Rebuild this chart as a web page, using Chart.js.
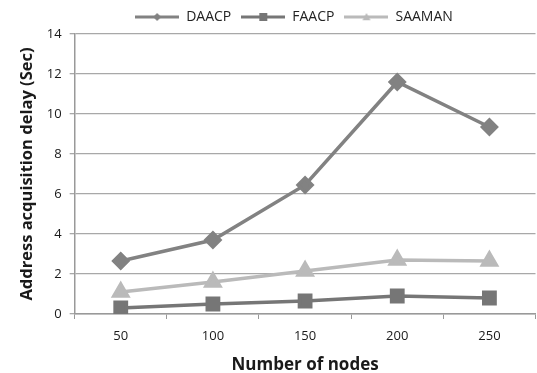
<!DOCTYPE html>
<html>
<head>
<meta charset="utf-8">
<script src="https://cdn.jsdelivr.net/npm/chart.js@4.4.1/dist/chart.umd.min.js"></script>
<style>
  html, body { margin: 0; padding: 0; background: #fff; overflow: hidden; }
  #wrap { width: 537px; height: 373px; overflow: hidden; }
</style>
</head>
<body>
<div id="wrap"><canvas id="delayChart" width="547" height="375"></canvas></div>
<script>
// values
var nodeCounts = ['50', '100', '150', '200', '250'];
var daacpDelay = [2.65, 3.7, 6.45, 11.6, 9.35];
var faacpDelay = [0.3, 0.5, 0.65, 0.9, 0.8];
var saamanDelay = [1.1, 1.6, 2.15, 2.7, 2.65];
var yTicks = [0, 2, 4, 6, 8, 10, 12, 14];

var fontFamily = "'Open Sans', 'Liberation Sans', sans-serif";

// legend swatch: a short line with the marker in the middle
function legendSwatch(color, style, size) {
    var c = document.createElement('canvas');
    c.width = 44; c.height = 14;
    var g = c.getContext('2d');
    g.strokeStyle = color;
    g.lineWidth = 3;
    g.beginPath(); g.moveTo(0, 7); g.lineTo(44, 7); g.stroke();
    g.fillStyle = color;
    g.beginPath();
    if (style === 'rectRot') {
        g.moveTo(22, 7 - size); g.lineTo(22 + size, 7); g.lineTo(22, 7 + size); g.lineTo(22 - size, 7);
    } else if (style === 'rect') {
        g.rect(22 - size, 7 - size, size * 2, size * 2);
    } else {
        g.moveTo(22, 7 - size); g.lineTo(22 + size, 7 + size * 0.8); g.lineTo(22 - size, 7 + size * 0.8);
    }
    g.closePath(); g.fill();
    return c;
}

// nudge the legend a little to the right, like the original
var legendShift = {
    id: 'legendShift',
    afterLayout: function (chart) {
        chart.legend.left += 13;
        chart.legend.right += 13;
    }
};

var ctx = document.getElementById('delayChart').getContext('2d');
var chart = new Chart(ctx, {
    type: 'line',
    data: {
        labels: nodeCounts,
        datasets: [{
            label: 'DAACP',
            data: daacpDelay,
            borderColor: '#828282',
            backgroundColor: '#828282',
            borderWidth: 3.5,
            pointStyle: 'rectRot',
            pointRadius: 7,
            tension: 0
        }, {
            label: 'FAACP',
            data: faacpDelay,
            borderColor: '#767676',
            backgroundColor: '#767676',
            borderWidth: 3.5,
            pointStyle: 'rect',
            pointRadius: 8,
            tension: 0
        }, {
            label: 'SAAMAN',
            data: saamanDelay,
            borderColor: '#bababa',
            backgroundColor: '#bababa',
            borderWidth: 3.5,
            pointStyle: 'triangle',
            pointRadius: 8,
            tension: 0
        }]
    },
    plugins: [legendShift],
    options: {
        responsive: false,
        animation: false,
        layout: { padding: { left: 17, right: 2, top: 0, bottom: 0 } },
        plugins: {
            tooltip: { enabled: false },
            legend: {
                position: 'top',
                labels: {
                    usePointStyle: true,
                    pointStyleWidth: 44,
                    color: '#222',
                    font: { family: fontFamily, size: 14 },
                    padding: 10,
                    generateLabels: function (chart) {
                        var styles = [['#828282', 'rectRot', 4], ['#767676', 'rect', 4], ['#bababa', 'triangle', 4]];
                        return chart.data.datasets.map(function (ds, i) {
                            return {
                                text: ds.label,
                                pointStyle: legendSwatch(styles[i][0], styles[i][1], styles[i][2]),
                                fillStyle: styles[i][0],
                                strokeStyle: styles[i][0],
                                lineWidth: 0,
                                datasetIndex: i,
                                fontColor: '#222'
                            };
                        });
                    }
                }
            }
        },
        scales: {
            x: {
                offset: true,
                grid: {
                    offset: true,
                    drawOnChartArea: false,
                    tickLength: 5,
                    color: '#999'
                },
                border: { color: '#999', width: 1.5 },
                ticks: {
                    color: '#1a1a1a',
                    font: { family: fontFamily, size: 13 },
                    padding: 9
                },
                title: {
                    display: true,
                    text: 'Number of nodes',
                    color: '#1a1a1a',
                    font: { family: fontFamily, size: 17, weight: 'bold' },
                    padding: { top: 2, bottom: 0 }
                }
            },
            y: {
                min: 0,
                max: 14,
                afterBuildTicks: function (axis) {
                    axis.ticks = yTicks.map(function (v) { return { value: v }; });
                },
                grid: {
                    color: '#a8a8a8',
                    lineWidth: 1.3,
                    tickLength: 5
                },
                border: { color: '#999', width: 1.5 },
                ticks: {
                    color: '#1a1a1a',
                    font: { family: fontFamily, size: 13 },
                    padding: 8
                },
                title: {
                    display: true,
                    text: 'Address acquisition delay (Sec)',
                    color: '#1a1a1a',
                    font: { family: fontFamily, size: 16.5, weight: 'bold' },
                    padding: { top: 0, bottom: 2 }
                }
            }
        }
    }
});
</script>
</body>
</html>
